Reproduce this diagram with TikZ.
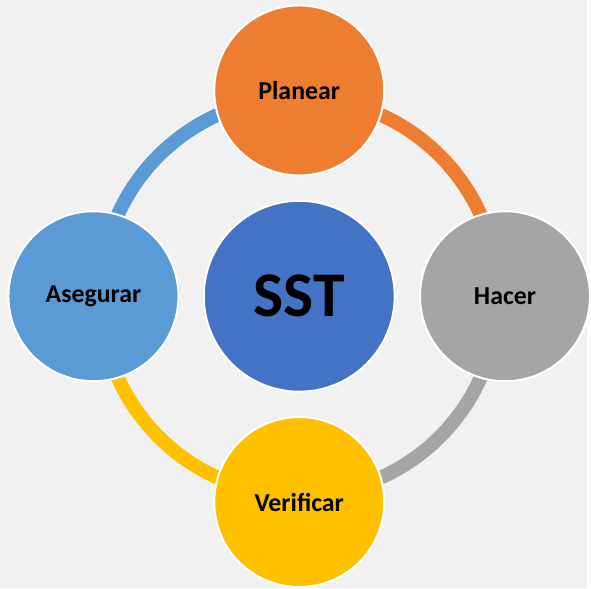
\documentclass[tikz,border=0pt]{standalone}
\usepackage{fontspec}
\setmainfont{Carlito}
\usetikzlibrary{positioning}
\definecolor{bg}{HTML}{F1F1F1}
\definecolor{naranja}{HTML}{ED7D31}
\definecolor{gris}{HTML}{A5A5A5}
\definecolor{amarillo}{HTML}{FFC000}
\definecolor{celeste}{HTML}{5B9BD5}
\definecolor{azul}{HTML}{4472C4}
\begin{document}
\begin{tikzpicture}[x=1pt, y=1pt, node distance={207pt}, main/.style = {draw=white, line width=2pt, circle, minimum size=171pt, font=\fontsize{26}{30}\selectfont\bfseries}, ring/.style = {line width=14pt}]
    \fill[bg] (0,0) rectangle (590,-591);
    \coordinate (c) at (301,-298);
    \draw[ring, naranja] (c) ++(90:200) arc[start angle=90, end angle=0, radius=200];
    \draw[ring, gris] (c) ++(0:200) arc[start angle=0, end angle=-90, radius=200];
    \draw[ring, amarillo] (c) ++(-90:200) arc[start angle=-90, end angle=-180, radius=200];
    \draw[ring, celeste] (c) ++(180:200) arc[start angle=180, end angle=90, radius=200];
    \node[main, fill=azul, minimum size=192pt, font=\fontsize{64}{70}\selectfont\bfseries] (sst) at (c) {SST};
    \node[main, fill=naranja] (planear) [above of=sst] {Planear};
    \node[main, fill=gris] (hacer) [right of=sst] {Hacer};
    \node[main, fill=amarillo] (verificar) [below of=sst] {Verificar};
    \node[main, fill=celeste] (asegurar) [left of=sst] {Asegurar};
\end{tikzpicture}
\end{document}
